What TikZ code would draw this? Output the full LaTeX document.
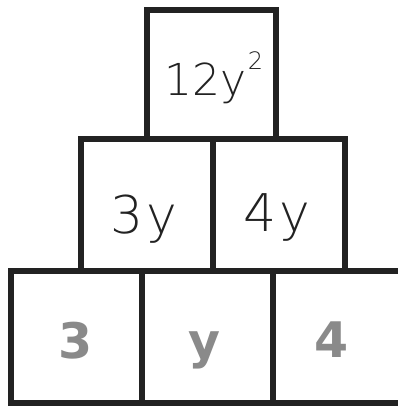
\documentclass[tikz,border=0pt]{standalone}
\usepackage{fontspec}
\setsansfont{DejaVu Sans}
\newfontfamily\handfont{DejaVu Sans ExtraLight}
\newfontfamily\printfont{DejaVu Sans}
\definecolor{ink}{HTML}{222222}
\definecolor{printgray}{HTML}{8A8A8A}
\begin{document}
\begin{tikzpicture}[x=1pt,y=-1pt,
  cell/.style={draw=ink, line width=6pt, fill=white, inner sep=0pt, outer sep=0pt, line join=miter},
  hand/.style={font=\handfont\fontsize{52}{52}\selectfont, text=ink, anchor=base, inner sep=0pt},
  printed/.style={font=\printfont\bfseries\fontsize{49}{49}\selectfont, text=printgray, anchor=base, inner sep=0pt}]
\fill[white] (0,0) rectangle (398,407);
\useasboundingbox (0,0) rectangle (398,407);
% bottom row
\node[cell, minimum width=131pt, minimum height=132pt] (b1) at (76.5,337) {};
\node[cell, minimum width=131pt, minimum height=132pt] (b2) at (207.5,337) {};
\node[cell, minimum width=131pt, minimum height=132pt] (b3) at (338.5,337) {};
% middle row
\node[cell, minimum width=132pt, minimum height=132pt] (m1) at (147,205) {};
\node[cell, minimum width=132pt, minimum height=132pt] (m2) at (279,205) {};
% top
\node[cell, minimum width=129pt, minimum height=129pt] (t) at (211.5,74.5) {};
% texts
\node[hand, font=\handfont\fontsize{44}{44}\selectfont] (tt) at (214,95) {12y\kern1pt\raisebox{26pt}{\fontsize{24}{24}\selectfont 2}};
\node[hand] (m1t) at (144,233) {3\kern3pt y};
\node[hand] (m2t) at (277,231) {4\kern3pt y};
\node[printed] (b1t) at (76,358) {3};
\node[printed] (b2t) at (204,358) {y};
\node[printed] (b3t) at (332,357) {4};
\end{tikzpicture}
\end{document}
